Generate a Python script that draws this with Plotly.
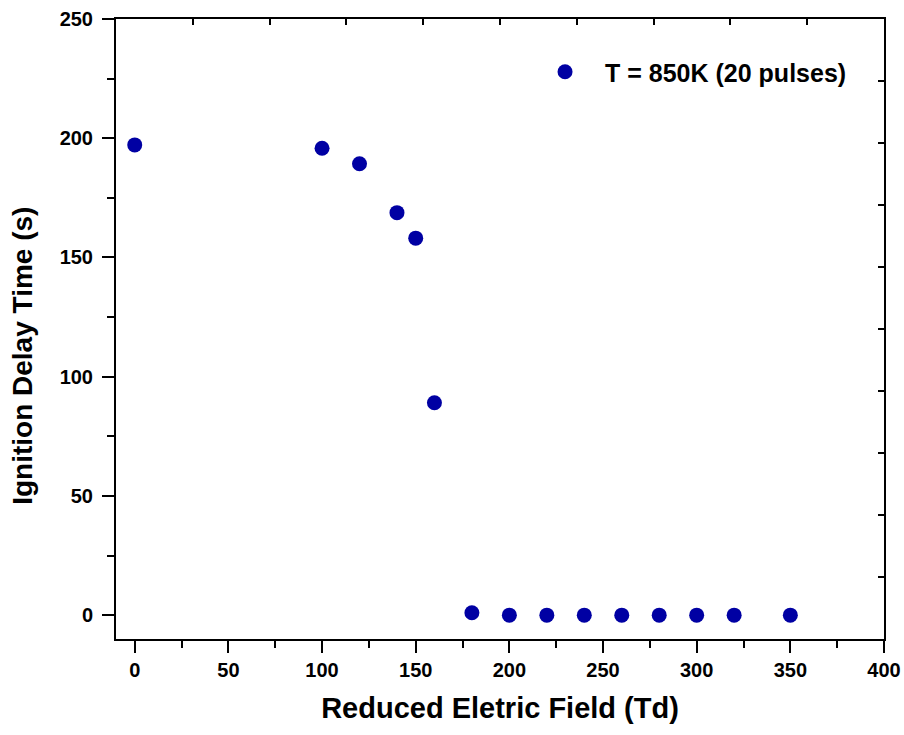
import plotly.graph_objects as go

field_td = [0, 100, 120, 140, 150, 160, 180, 200, 220, 240, 260, 280, 300, 320, 350]
delay_s = [197.2, 195.8, 189.3, 168.8, 158.1, 89.1, 1.0, 0, 0, 0, 0, 0, 0, 0, 0]
series_name = "T = 850K (20 pulses)"

x_ticks = [0, 50, 100, 150, 200, 250, 300, 350, 400]
y_ticks = [0, 50, 100, 150, 200, 250]

FONT = "Liberation Sans, Arial, sans-serif"
BLUE = "#0000a3"

fig = go.Figure()
fig.add_trace(go.Scatter(
    x=field_td, y=delay_s, mode="markers", name=series_name,
    marker=dict(size=15, color=BLUE, line=dict(width=0)),
))
# invisible trace to anchor mirror axes (top/right ticks)
fig.add_trace(go.Scatter(x=[0, 10], y=[0, 10], xaxis="x2", yaxis="y2",
                         mode="markers", marker=dict(opacity=0),
                         showlegend=False, hoverinfo="skip"))

axis_common = dict(
    showgrid=False, zeroline=False, showline=True, linecolor="black", linewidth=2,
    ticks="outside", tickwidth=2, ticklen=12, tickcolor="black", automargin=False,
    tickfont=dict(family=FONT, size=20, color="black", weight="bold"),
)

fig.update_layout(
    width=904, height=735,
    margin=dict(l=116, r=20, t=19, b=96, autoexpand=False),
    paper_bgcolor="white", plot_bgcolor="white",
    showlegend=True,
    legend=dict(x=0.5326, y=0.9145, xanchor="left", yanchor="middle",
                itemwidth=70, bgcolor="rgba(0,0,0,0)",
                font=dict(family=FONT, size=25, color="black", weight="bold")),
    xaxis=dict(
        range=[-10, 400], tickvals=x_ticks, ticktext=[str(v) for v in x_ticks],
        minor=dict(dtick=25, tick0=0, ticks="outside", ticklen=7, tickwidth=2, tickcolor="black"),
        title=dict(text="Reduced Eletric Field (Td)", standoff=18,
                   font=dict(family=FONT, size=29, color="black", weight="bold")),
        **axis_common,
    ),
    yaxis=dict(
        range=[-10, 250], tickvals=y_ticks, ticktext=[str(v) for v in y_ticks],
        minor=dict(dtick=25, tick0=0, ticks="outside", ticklen=7, tickwidth=2, tickcolor="black"),
        ticklabelstandoff=5,
        **axis_common,
    ),
    xaxis2=dict(overlaying="x", side="top", anchor="y", range=[0, 10], dtick=1,
                ticks="inside", ticklen=6, tickwidth=2, tickcolor="black",
                showticklabels=False, showgrid=False, zeroline=False, automargin=False,
                showline=True, linecolor="black", linewidth=2),
    yaxis2=dict(overlaying="y", side="right", anchor="x", range=[0, 10], dtick=1,
                ticks="inside", ticklen=6, tickwidth=2, tickcolor="black",
                showticklabels=False, showgrid=False, zeroline=False, automargin=False,
                showline=True, linecolor="black", linewidth=2),
    annotations=[dict(
        text="Ignition Delay Time (s)", textangle=-90, showarrow=False,
        xref="paper", yref="paper", x=-0.1217, y=0.456,
        xanchor="center", yanchor="middle",
        font=dict(family=FONT, size=28, color="black", weight="bold"),
    )],
)

fig.write_html(
    "out.html",
    config={"displayModeBar": False},
    post_script="document.body.style.margin='0';document.body.style.overflow='hidden';",
)
